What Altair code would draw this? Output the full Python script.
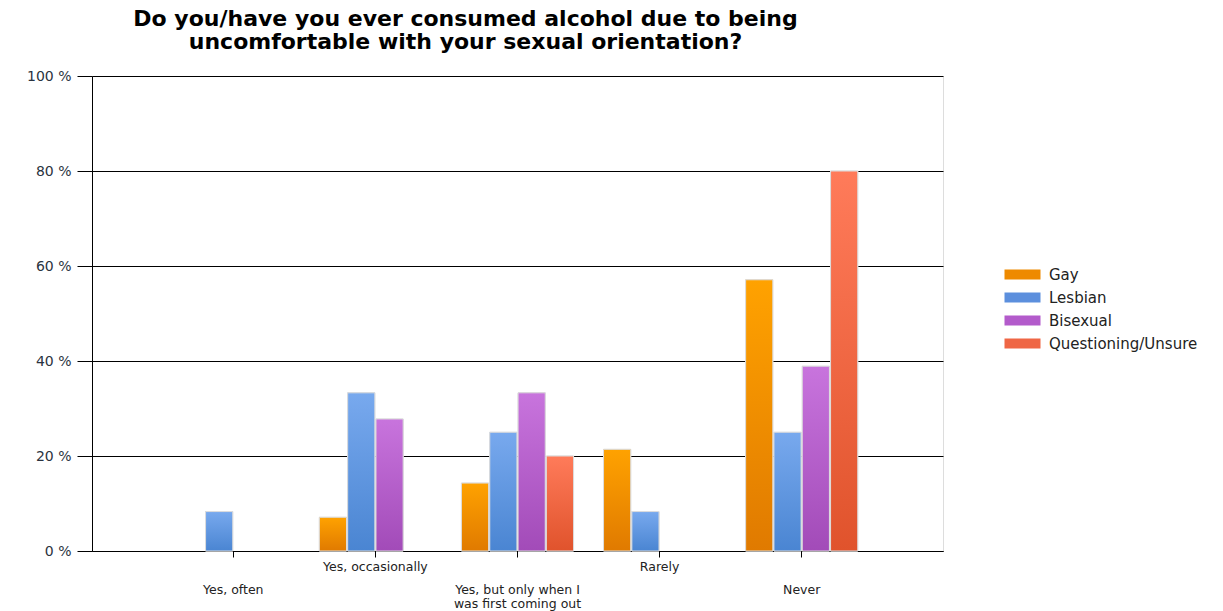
import altair as alt
import pandas as pd

categories = ["Yes, often", "Yes, occasionally",
              "Yes, but only when I was first coming out", "Rarely", "Never"]
category_labels = ["Yes, often", "Yes, occasionally",
                   "Yes, but only when I\nwas first coming out", "Rarely", "Never"]
series = ["Gay", "Lesbian", "Bisexual", "Questioning/Unsure"]
gay = [0, 7.1, 14.3, 21.4, 57.1]
lesbian = [8.3, 33.3, 25.0, 8.3, 25.0]
bisexual = [0, 27.8, 33.3, 0, 38.9]
questioning = [0, 0, 20.0, 0, 80.0]

solid = ["#EE8A00", "#5C8FDD", "#B35BCB", "#EF6645"]
tops = ["#FFA200", "#78A9EE", "#C874DD", "#FF7B5A"]
bottoms = ["#E07A00", "#4A85D2", "#A24BB8", "#E0532C"]

rows = []
for s, vals in zip(series, [gay, lesbian, bisexual, questioning]):
    for c, v in zip(categories, vals):
        if v > 0:
            rows.append({"category": c, "series": s, "value": v})
df = pd.DataFrame(rows)

upper_cats = categories[1::2]
lower_cats = categories[0::2]
lbl_df = pd.DataFrame({"category": categories, "text": category_labels})

FONT = "DejaVu Sans"

xscale = alt.Scale(domain=categories, paddingInner=0.211, paddingOuter=0.6)
x = alt.X("category:N", sort=categories, title=None, scale=xscale,
          axis=alt.Axis(labels=False, tickSize=6, tickColor="#000",
                        domainColor="#000", grid=False))
xo = alt.XOffset("series:N", sort=series,
                 scale=alt.Scale(domain=series, paddingInner=0.04))
y = alt.Y("value:Q", title=None,
          scale=alt.Scale(domain=[0, 100]),
          axis=alt.Axis(values=[0, 20, 40, 60, 80, 100],
                        labelExpr="datum.value + ' %'", labelFont=FONT,
                        labelFontSize=14, labelColor="#2a3340",
                        tickSize=15, tickColor="#000", labelPadding=6,
                        domainColor="#000", gridColor="#000", gridOpacity=1))

base = alt.Chart(df)

legend_layer = base.mark_bar(stroke="#dddddd", strokeWidth=1).encode(
    x=x, xOffset=xo, y=y,
    color=alt.Color("series:N", sort=series,
                    scale=alt.Scale(domain=series, range=solid),
                    legend=alt.Legend(title=None, orient="none",
                                      legendX=918, legendY=186,
                                      symbolType="M-1.44,-0.4L1.44,-0.4L1.44,0.4L-1.44,0.4Z",
                                      symbolSize=625, symbolStrokeWidth=0,
                                      labelFont=FONT, labelFontSize=15,
                                      labelColor="#222", rowPadding=2,
                                      labelOffset=14))
)

conds = []
for s, t, b in zip(series[:-1], tops[:-1], bottoms[:-1]):
    conds.append({"test": f"datum.series == '{s}'",
                  "value": {"gradient": "linear", "x1": 0, "y1": 0, "x2": 0, "y2": 1,
                            "stops": [{"offset": 0, "color": t},
                                      {"offset": 1, "color": b}]}})
fill_def = {"condition": conds,
            "value": {"gradient": "linear", "x1": 0, "y1": 0, "x2": 0, "y2": 1,
                      "stops": [{"offset": 0, "color": tops[-1]},
                                {"offset": 1, "color": bottoms[-1]}]}}

grad_layer = base.mark_bar(stroke="#dddddd", strokeWidth=1).encode(
    x=x, xOffset=xo, y=y, fill=fill_def
)

lbl_base = alt.Chart(lbl_df)
lx = alt.X("category:N", sort=categories, scale=xscale, title=None)
upper_text = lbl_base.transform_filter(
    alt.FieldOneOfPredicate(field="category", oneOf=upper_cats)
).mark_text(font=FONT, fontSize=12.5, color="#222", baseline="top",
            lineBreak="\n", lineHeight=13.5).encode(
    x=lx, y=alt.value(485), text="text:N")
lower_text = lbl_base.transform_filter(
    alt.FieldOneOfPredicate(field="category", oneOf=lower_cats)
).mark_text(font=FONT, fontSize=12.5, color="#222", baseline="top",
            lineBreak="\n", lineHeight=13.5).encode(
    x=lx, y=alt.value(508), text="text:N")

chart = alt.layer(legend_layer, grad_layer, upper_text, lower_text).properties(
    width=851, height=475,
    autosize=alt.AutoSizeParams(type="none"),
    padding={"left": 92, "top": 76, "right": 280, "bottom": 60},
    title=alt.TitleParams(
        text=["Do you/have you ever consumed alcohol due to being",
              "uncomfortable with your sexual orientation?"],
        font=FONT, fontSize=22, fontWeight="bold", color="#000",
        lineHeight=23, anchor="middle", dx=-52, offset=15),
).configure_view(stroke=None).configure(background="white")

chart.save("out.html", embed_options={"renderer": "svg", "actions": False})
